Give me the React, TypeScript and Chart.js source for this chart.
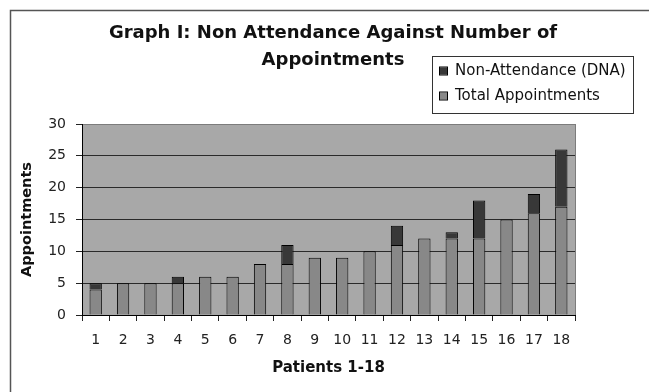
import React, { useEffect, useRef } from "react";
import { Chart, registerables } from "chart.js";

Chart.register(...registerables);

const categories = ["1", "2", "3", "4", "5", "6", "7", "8", "9", "10", "11", "12", "13", "14", "15", "16", "17", "18"];
const totalAppointments = [4, 5, 5, 5, 6, 6, 8, 8, 9, 9, 10, 11, 12, 12, 12, 15, 16, 17];
const nonAttendance = [1, 0, 0, 1, 0, 0, 0, 3, 0, 0, 0, 3, 0, 1, 6, 0, 3, 9];
const yTickValues = [0, 5, 10, 15, 20, 25, 30];
const chartTitle = ["Graph I: Non Attendance Against Number of", "Appointments"];
const xAxisTitle = "Patients 1-18";
const yAxisTitle = "Appointments";
const seriesNames = ["Total Appointments", "Non-Attendance (DNA)"];

const FONT = "'DejaVu Sans', 'Liberation Sans', Arial, sans-serif";
const PLOT_BG = "#a8a8a8";
const TOTAL_COLOR = "#888888";
const DNA_COLOR = "#383838";

const decorPlugin = {
  id: "decor",
  beforeDraw(chart: any) {
    const { ctx, chartArea } = chart;
    ctx.save();
    ctx.fillStyle = "#ffffff";
    ctx.fillRect(0, 0, chart.width, chart.height);
    // outer frame
    ctx.strokeStyle = "#555555";
    ctx.lineWidth = 1.5;
    ctx.strokeRect(10.5, 10.5, chart.width + 20, chart.height + 20);
    // plot area
    ctx.fillStyle = PLOT_BG;
    ctx.fillRect(chartArea.left, chartArea.top, chartArea.right - chartArea.left, chartArea.bottom - chartArea.top);
    ctx.strokeStyle = "#7c7c7c";
    ctx.lineWidth = 1;
    ctx.strokeRect(chartArea.left + 0.5, chartArea.top + 0.5, chartArea.right - chartArea.left, chartArea.bottom - chartArea.top);
    ctx.restore();
  },
  afterDraw(chart: any) {
    const { ctx } = chart;
    const datasets = chart.data.datasets;
    const order = [1, 0];
    const bx = 432, by = 56, bw = 201, bh = 57;
    ctx.save();
    ctx.fillStyle = "#ffffff";
    ctx.fillRect(bx, by, bw, bh);
    ctx.strokeStyle = "#333333";
    ctx.lineWidth = 1;
    ctx.strokeRect(bx + 0.5, by + 0.5, bw, bh);
    ctx.font = `15px ${FONT}`;
    ctx.textBaseline = "middle";
    order.forEach((di, i) => {
      const ds = datasets[di];
      const cy = by + 15 + i * 25;
      ctx.fillStyle = ds.backgroundColor;
      ctx.fillRect(bx + 8, cy - 3.5, 7, 7);
      ctx.strokeStyle = "#000000";
      ctx.strokeRect(bx + 7.5, cy - 4, 8, 8);
      ctx.fillStyle = "#111111";
      ctx.fillText(ds.label, bx + 23, cy);
    });
    ctx.restore();
  },
};

export default function App() {
  const canvasRef = useRef<HTMLCanvasElement | null>(null);

  useEffect(() => {
    const canvas = canvasRef.current;
    if (!canvas) return;
    const chart = new Chart(canvas, {
      type: "bar",
      data: {
        labels: categories,
        datasets: [
          {
            label: seriesNames[0],
            data: totalAppointments,
            backgroundColor: TOTAL_COLOR,
            borderColor: "#000000",
            borderWidth: 1,
            barPercentage: 0.45,
            categoryPercentage: 1,
          },
          {
            label: seriesNames[1],
            data: nonAttendance,
            backgroundColor: DNA_COLOR,
            borderColor: "#000000",
            borderWidth: 1,
            barPercentage: 0.45,
            categoryPercentage: 1,
          },
        ],
      },
      options: {
        responsive: false,
        animation: false,
        devicePixelRatio: 1,
        layout: { padding: { left: 17, right: 0, top: 0, bottom: 0 } },
        plugins: {
          legend: { display: false },
          tooltip: { enabled: false },
          title: {
            display: true,
            text: chartTitle,
            color: "#111111",
            font: { family: FONT, size: 18, weight: "bold", lineHeight: 27 / 18 },
            padding: { top: 19.5, bottom: 50.5 },
          },
        },
        scales: {
          x: {
            stacked: true,
            offset: true,
            grid: {
              display: true,
              drawOnChartArea: false,
              drawTicks: true,
              tickLength: 6,
              color: "#222222",
              offset: true,
            },
            border: { display: true, color: "#000000", width: 1 },
            ticks: { color: "#222222", font: { family: FONT, size: 14 }, padding: 11, maxRotation: 0, autoSkip: false },
            title: {
              display: true,
              text: xAxisTitle,
              color: "#111111",
              font: { family: FONT, size: 15, weight: "bold" },
              padding: { top: 4, bottom: 15 },
            },
            afterFit(scale: any) {
              scale.height = 77;
            },
          },
          y: {
            stacked: true,
            min: 0,
            max: 30,
            afterBuildTicks(scale: any) {
              scale.ticks = yTickValues.map((v) => ({ value: v }));
            },
            grid: {
              display: true,
              drawOnChartArea: true,
              drawTicks: true,
              tickLength: 6,
              color: (c: any) => (c.tick && c.tick.value === 30 ? "#7c7c7c" : "#2a2a2a"),
              tickColor: "#222222",
            },
            border: { display: true, color: "#000000", width: 1 },
            ticks: { color: "#222222", font: { family: FONT, size: 14 }, padding: 10 },
            title: {
              display: true,
              text: yAxisTitle,
              color: "#111111",
              font: { family: FONT, size: 14.5, weight: "bold" },
              padding: { top: 2, bottom: 2 },
            },
            afterFit(scale: any) {
              scale.width = 65;
            },
          },
          yRight: {
            axis: "y",
            position: "right",
            display: true,
            min: 0,
            max: 30,
            grid: { display: false, drawTicks: false },
            border: { display: false },
            ticks: { display: false },
            afterFit(scale: any) {
              scale.width = 74;
            },
          },
        },
      } as any,
      plugins: [decorPlugin],
    });
    return () => chart.destroy();
  }, []);

  return (
    <div style={{ position: "fixed", left: 0, top: 0, width: 649, height: 392, background: "#fff" }}>
      <canvas ref={canvasRef} width={649} height={392} style={{ display: "block", width: 649, height: 392 }} />
    </div>
  );
}
